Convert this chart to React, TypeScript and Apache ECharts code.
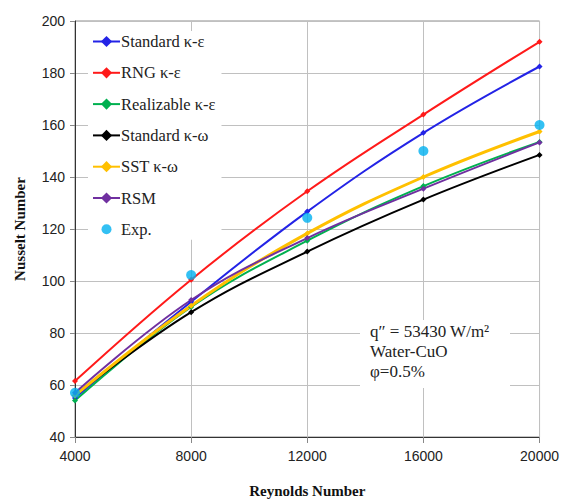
import React, { useEffect, useRef } from "react";
import * as echarts from "echarts";

const reynolds = [4000, 8000, 12000, 16000, 20000];
const standardKE = [55, 92, 126.7, 157, 182.5];
const rngKE = [61.5, 100.5, 134.5, 164, 192];
const realizableKE = [54, 90, 115.5, 136.5, 153.5];
const standardKW = [56, 88, 111.3, 131.3, 148.5];
const sstKW = [56, 90.5, 118.3, 140, 157.5];
const rsm = [57, 92.7, 116.5, 135.5, 153.3];
const exp = [57, 102.3, 124.3, 150, 160];

const pair = (ys: number[]) => reynolds.map((x, i) => [x, ys[i]]);

const lineSeries = (name: string, ys: number[], color: string, width = 2) => ({
  name,
  type: "line",
  data: pair(ys),
  smooth: 0.4,
  symbol: "diamond",
  symbolSize: 6,
  showSymbol: true,
  itemStyle: { color },
  lineStyle: { color, width },
  z: 3,
});

const expIcon =
  "path://M0,0L0,0M27,14L27,14M8.5,7A5,5,0,1,1,18.5,7A5,5,0,1,1,8.5,7Z";

export default function App() {
  const ref = useRef<HTMLDivElement>(null);
  useEffect(() => {
    const chart = echarts.init(ref.current!, null, { renderer: "svg" });
    chart.setOption({
      animation: false,
      backgroundColor: "#fff",
      grid: { left: 75, right: 18, top: 21, bottom: 60, show: true, borderColor: "#8c8c8c", borderWidth: 1 },
      xAxis: {
        type: "value",
        min: 4000,
        max: 20000,
        interval: 4000,
        name: "Reynolds Number",
        nameLocation: "middle",
        nameGap: 46,
        nameTextStyle: { fontFamily: "Liberation Serif", fontWeight: "bold", fontSize: 15, color: "#111" },
        axisLine: { lineStyle: { color: "#333", width: 1 } },
        axisTick: { show: true, length: 6, lineStyle: { color: "#888" } },
        axisLabel: { fontFamily: "Liberation Sans", fontSize: 14, color: "#222", margin: 12, formatter: (v: number) => String(v) },
        splitLine: { show: true, lineStyle: { color: "#c0c0c0", width: 1 } },
      },
      yAxis: {
        type: "value",
        min: 40,
        max: 200,
        interval: 20,
        name: "Nusselt Number",
        nameLocation: "middle",
        nameGap: 48,
        nameTextStyle: { fontFamily: "Liberation Serif", fontWeight: "bold", fontSize: 15, color: "#111" },
        axisLine: { show: true, lineStyle: { color: "#333", width: 1 } },
        axisTick: { show: true, length: 5, lineStyle: { color: "#888" } },
        axisLabel: { fontFamily: "Liberation Sans", fontSize: 14, color: "#222", margin: 10 },
        splitLine: { show: true, lineStyle: { color: "#c0c0c0", width: 1 } },
      },
      legend: {
        orient: "vertical",
        left: 88,
        top: 31,
        itemWidth: 27,
        itemHeight: 14,
        itemGap: 14.3,
        backgroundColor: "#fff",
        padding: [2, 6, 2, 4],
        textStyle: { fontFamily: "Liberation Serif", fontSize: 16.5, color: "#222", padding: [0, 0, 0, -4] },
        data: [
          "Standard κ-ε",
          "RNG κ-ε",
          "Realizable κ-ε",
          "Standard κ-ω",
          "SST κ-ω",
          "RSM",
          { name: "Exp.", icon: expIcon },
        ],
      },
      graphic: [
        {
          type: "rect",
          left: 360,
          top: 320,
          shape: { width: 150, height: 68 },
          style: { fill: "#fff" },
          z: 10,
        },
        {
          type: "text",
          left: 370,
          top: 321,
          z: 11,
          style: {
            text: "q″ = 53430 W/m²\nWater-CuO\nφ=0.5%",
            font: "17px 'Liberation Serif'",
            fill: "#222",
            lineHeight: 20,
          },
        },
      ],
      series: [
        lineSeries("Standard κ-ε", standardKE, "#2323e6"),
        lineSeries("RNG κ-ε", rngKE, "#ff1a1a"),
        lineSeries("Realizable κ-ε", realizableKE, "#00b050"),
        lineSeries("Standard κ-ω", standardKW, "#000000"),
        lineSeries("SST κ-ω", sstKW, "#ffc000", 3),
        lineSeries("RSM", rsm, "#7030a0"),
        {
          name: "Exp.",
          type: "scatter",
          data: pair(exp),
          symbol: "circle",
          symbolSize: 10,
          itemStyle: { color: "#00b0f0" },
          z: 5,
        },
      ],
    });
    return () => chart.dispose();
  }, []);
  return (
    <div
      ref={ref}
      style={{ position: "absolute", left: 0, top: 0, width: 562, height: 503 }}
    />
  );
}
